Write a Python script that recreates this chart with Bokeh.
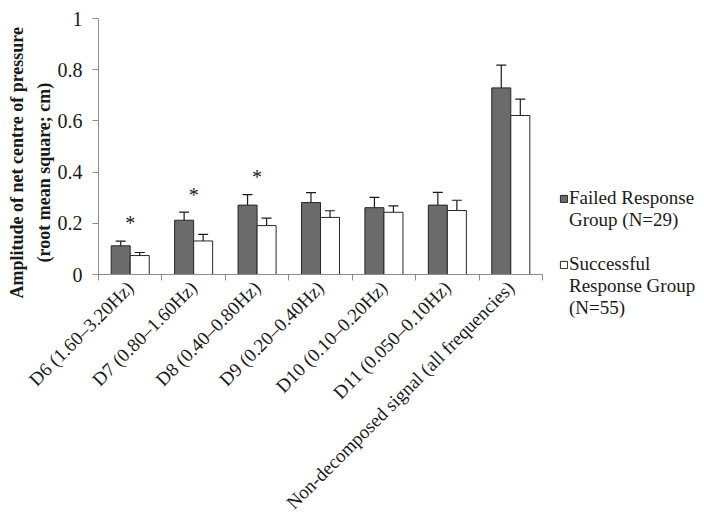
import math
from bokeh.plotting import figure
from bokeh.models import (FixedTicker, Whisker, ColumnDataSource, TeeHead, Range1d,
                          Legend, LegendItem, Title)
from bokeh.embed import file_html
from bokeh.resources import INLINE
from bokeh.core.properties import value

categories = ["D6 (1.60\u20133.20Hz)", "D7 (0.80\u20131.60Hz)", "D8 (0.40\u20130.80Hz)",
              "D9 (0.20\u20130.40Hz)", "D10 (0.10\u20130.20Hz)", "D11 (0.050\u20130.10Hz)",
              "Non-decomposed signal (all frequencies)"]
failed = [0.112, 0.212, 0.271, 0.281, 0.261, 0.271, 0.729]
failed_err = [0.018, 0.032, 0.041, 0.039, 0.040, 0.050, 0.089]
success = [0.074, 0.131, 0.191, 0.223, 0.243, 0.250, 0.621]
success_err = [0.012, 0.026, 0.029, 0.026, 0.025, 0.040, 0.064]
star_idx = [0, 1, 2]
star_y = [0.20, 0.31, 0.38]
y_ticks = [0, 0.2, 0.4, 0.6, 0.8, 1]
y_tick_labels = ["0", "0.2", "0.4", "0.6", "0.8", "1"]
y_title_lines = ["Amplitude of net centre of pressure", "(root mean square; cm)"]
legend_lines = [["Failed Response", "Group (N=29)"],
                ["Successful", "Response Group", "(N=55)"]]

FONT = "Liberation Serif"
INK = "#1a1a1a"
GRAY = "#8c8c8c"
DARK = "#6b6b6b"
EDGE = "#262626"
n = len(categories)
centers = [i + 0.5 for i in range(n)]
bw = 0.3

src_f = ColumnDataSource(dict(x=[c - bw / 2 for c in centers], top=failed,
                              lo=[v - e for v, e in zip(failed, failed_err)],
                              hi=[v + e for v, e in zip(failed, failed_err)]))
src_s = ColumnDataSource(dict(x=[c + bw / 2 for c in centers], top=success,
                              lo=[v - e for v, e in zip(success, success_err)],
                              hi=[v + e for v, e in zip(success, success_err)]))

p = figure(frame_width=444, frame_height=256, output_backend="svg", toolbar_location=None,
           x_range=Range1d(0, n), y_range=Range1d(0, 1),
           min_border_left=96, min_border_top=18, min_border_right=160, min_border_bottom=2)
p.outline_line_color = None
p.grid.grid_line_color = None

r_f = p.vbar(x="x", top="top", bottom=0, width=bw, source=src_f,
             fill_color=DARK, line_color=EDGE, line_width=1)
r_s = p.vbar(x="x", top="top", bottom=0, width=bw, source=src_s,
             fill_color="white", line_color=EDGE, line_width=1)
# empty renderer, only used for legend continuation lines (draws nothing)
r_blank = p.vbar(x=[], top=[], width=bw, fill_alpha=0, line_alpha=0)

for src in (src_f, src_s):
    w = Whisker(base="x", lower="lo", upper="hi", source=src, line_color=INK, line_width=1.2,
                upper_head=TeeHead(size=10, line_color=INK, line_width=1.2),
                lower_head=TeeHead(size=10, line_color=INK, line_width=1.2))
    p.add_layout(w)

p.text(x=[centers[i] for i in star_idx], y=star_y, text=["*"] * len(star_idx),
       text_font=value(FONT), text_font_size="20px", text_align="center",
       text_baseline="middle", text_color=INK)

xa = p.xaxis[0]
xa.ticker = FixedTicker(ticks=centers, minor_ticks=list(range(n + 1)))
xa.major_label_overrides = {c: lab for c, lab in zip(centers, categories)}
xa.major_label_orientation = math.pi / 4
xa.major_tick_line_color = None
xa.minor_tick_line_color = GRAY
xa.minor_tick_in = 0
xa.minor_tick_out = 6
xa.axis_line_color = GRAY
xa.major_label_text_font = FONT
xa.major_label_text_font_size = "19px"
xa.major_label_text_color = INK
xa.major_label_standoff = 4

ya = p.yaxis[0]
ya.ticker = FixedTicker(ticks=y_ticks)
ya.major_label_overrides = {t: l for t, l in zip(y_ticks, y_tick_labels)}
ya.major_tick_line_color = GRAY
ya.major_tick_in = 0
ya.major_tick_out = 6
ya.minor_tick_line_color = None
ya.axis_line_color = GRAY
ya.major_label_text_font = FONT
ya.major_label_text_font_size = "20px"
ya.major_label_text_color = INK
ya.major_label_standoff = 10

# y-axis title: two lines, as titles in the left panel (second line nearest the axis)
for txt, off, so in ((y_title_lines[1], 12, 2), (y_title_lines[0], -24, 8)):
    t = Title(text=txt, align="left", vertical_align="bottom", offset=off, standoff=so,
              text_font=FONT, text_font_style="bold", text_font_size="18px",
              text_color=INK)
    p.add_layout(t, "left")

# legend: one row per text line; continuation lines use an empty renderer
items = []
for k, (lines, rend) in enumerate(zip(legend_lines, (r_f, r_s))):
    if k > 0:
        items.append(LegendItem(label="\u00a0", renderers=[r_blank]))
    for j, line in enumerate(lines):
        items.append(LegendItem(label=line, renderers=[rend if j == 0 else r_blank]))

legend = Legend(items=items, location=(17, -45))
legend.label_text_font = FONT
legend.label_text_font_size = "19px"
legend.label_text_color = INK
legend.glyph_width = 9
legend.glyph_height = 9
legend.label_height = 20
legend.border_line_color = None
legend.background_fill_alpha = 0
legend.spacing = -3
legend.label_standoff = 1
legend.margin = 0
legend.padding = 0
p.add_layout(legend, "right")

open("out.html", "w").write(file_html(p, INLINE))
